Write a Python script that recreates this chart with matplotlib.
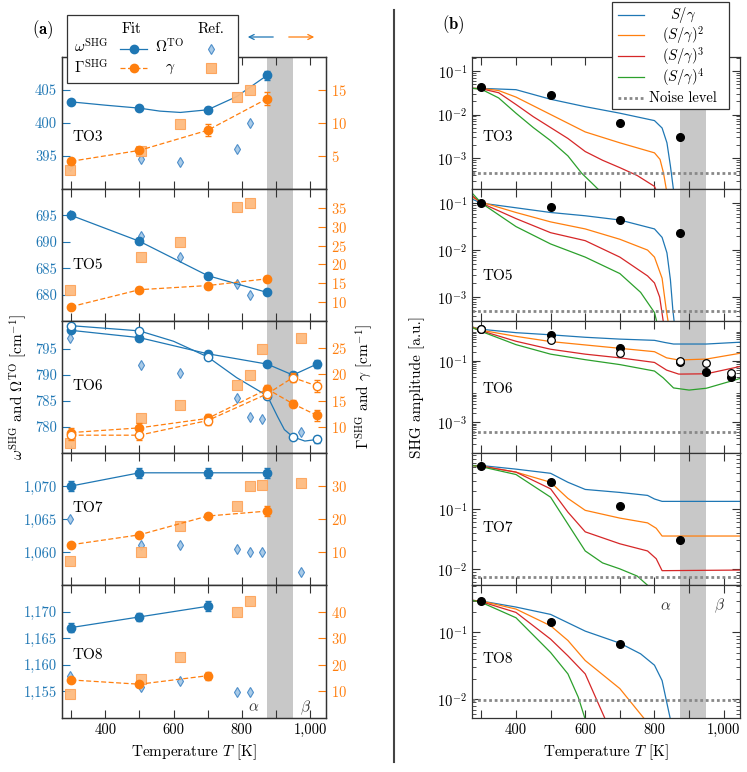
import numpy as np
import matplotlib.pyplot as plt
from matplotlib.lines import Line2D
from matplotlib.patches import Rectangle, FancyArrowPatch
from matplotlib.ticker import FixedLocator, FuncFormatter, NullFormatter, LogLocator
import matplotlib.transforms as mtransforms

plt.rcParams.update({
    "font.family": "serif",
    "font.serif": ["cmr10"],
    "mathtext.fontset": "cm",
    "axes.formatter.use_mathtext": True,
    "axes.unicode_minus": False,
    "font.size": 10,
})

# ---------------- (a) fitted frequencies / dampings ----------------
T_FIT = [300, 500, 700, 875]
T_FIT6 = [300, 500, 700, 875, 950, 1020]
T_FIT8 = [300, 500, 700]
T_REF = [297, 505, 620, 785, 825]
T_REF7 = [297, 505, 620, 785, 825, 860, 975]

TO3_w = [403.2, 402.25, 402.0, 407.25]
TO3_w_err = [0.3, 0.2, 0.5, 0.7]
TO3_g = [4.2, 5.85, 8.9, 13.7]
TO3_g_err = [0.4, 0.4, 0.9, 1.0]
TO3_w_ref = [393.5, 394.5, 394.1, 396.0, 400.0]
TO3_g_ref = [2.85, 5.75, 9.8, 14.0, 15.0]
TO3_w_curve_T = [300, 400, 500, 560, 620, 700, 785, 875]
TO3_w_curve = [403.2, 402.7, 402.25, 401.8, 401.6, 402.0, 404.0, 407.25]

TO5_w = [695.0, 690.1, 683.6, 680.4]
TO5_w_err = [0.3, 0.6, 0.5, 0.3]
TO5_g = [8.8, 13.3, 14.4, 16.2]
TO5_g_err = [0.5, 0.6, 0.8, 0.6]
TO5_w_ref = [695.0, 691.1, 687.1, 682.0, 680.0]
TO5_g_ref = [13.2, 21.9, 26.0, 35.1, 36.2]

TO6_w = [798.6, 797.2, 794.1, 792.1, 790.0, 792.1]
TO6_w_err = [0.4, 0.4, 0.5, 0.4, 0.5, 0.8]
TO6_w_open = [799.5, 798.5, 793.5, 786.0, 778.1, 777.6]
TO6_w_open_err = [0.3, 0.3, 0.4, 0.4, 0.4, 0.7]
TO6_g = [8.9, 9.8, 11.6, 17.2, 14.4, 12.2]
TO6_g_err = [0.8, 1.0, 0.9, 0.8, 0.7, 1.0]
TO6_g_open = [8.4, 8.4, 11.2, 16.3, 19.4, 17.8]
TO6_g_open_err = [0.9, 0.9, 0.9, 0.8, 0.8, 1.2]
TO6_w_ref = [797.2, 792.0, 790.3, 785.5, 782.0, 781.6, 779.0]
TO6_g_ref = [7.0, 11.6, 14.1, 17.9, 19.9, 24.8, 26.9]
TO6_w_open_curve_T = [300, 500, 600, 700, 785, 875, 905, 925, 950, 985, 1020]
TO6_w_open_curve = [799.5, 798.5, 796.5, 793.5, 789.5, 786.0, 782.0, 779.5, 778.1, 777.3, 777.6]

TO7_w = [1070.0, 1072.0, 1072.0, 1072.0]
TO7_w_err = [0.8, 0.8, 0.8, 0.8]
TO7_g = [12.2, 15.2, 20.9, 22.4]
TO7_g_err = [0.6, 0.5, 0.6, 1.5]
TO7_w_ref = [1065.0, 1061.0, 1061.0, 1060.5, 1060.0, 1060.0, 1057.0]
TO7_g_ref = [7.3, 9.9, 17.9, 23.9, 29.9, 30.3, 31.0]

TO8_w = [1167.0, 1169.0, 1171.0]
TO8_w_err = [0.8, 0.8, 0.9]
TO8_g = [14.3, 12.7, 15.9]
TO8_g_err = [0.8, 0.8, 1.5]
TO8_w_ref = [1157.9, 1155.9, 1156.9, 1154.9, 1154.9]
TO8_g_ref = [9.1, 14.8, 22.8, 40.0, 44.0]

# ---------------- (b) SHG amplitudes (log10 values) ----------------
TO3_pts_T = [300, 500, 700, 875]
TO3_pts = [-1.38, -1.55, -2.2, -2.52]
TO3_noise = -3.35
TO3_S1_T = [275, 300, 400, 500, 600, 700, 800, 822, 836, 846, 856]
TO3_S1 = [-1.40, -1.40, -1.43, -1.65, -1.82, -1.97, -2.14, -2.31, -2.65, -3.18, -3.8]
TO3_S2_T = [275, 300, 350, 400, 500, 600, 700, 800, 816, 826, 836]
TO3_S2 = [-1.40, -1.40, -1.45, -1.60, -2.0, -2.4, -2.65, -2.88, -3.03, -3.34, -3.8]
TO3_S3_T = [275, 300, 350, 400, 450, 500, 550, 600, 650, 700, 750, 800, 808]
TO3_S3 = [-1.40, -1.41, -1.5, -1.77, -2.05, -2.3, -2.55, -2.85, -3.05, -3.22, -3.40, -3.65, -3.8]
TO3_S4_T = [275, 300, 350, 400, 450, 500, 550, 590, 620, 648]
TO3_S4 = [-1.40, -1.42, -1.62, -1.97, -2.3, -2.6, -2.95, -3.35, -3.58, -3.8]

TO5_pts_T = [300, 500, 700, 875]
TO5_pts = [-1.0, -1.09, -1.36, -1.64]
TO5_noise = -3.29
TO5_S1_T = [275, 300, 400, 500, 600, 700, 800, 822, 836, 846, 853, 858]
TO5_S1 = [-0.92, -1.0, -1.1, -1.2, -1.27, -1.36, -1.55, -1.73, -2.06, -2.63, -3.27, -3.6]
TO5_S2_T = [275, 300, 400, 500, 600, 700, 780, 800, 822, 834, 841]
TO5_S2 = [-0.88, -0.98, -1.2, -1.4, -1.55, -1.77, -2.0, -2.15, -2.6, -3.27, -3.6]
TO5_S3_T = [275, 300, 400, 500, 600, 700, 780, 800, 815, 827]
TO5_S3 = [-0.85, -1.0, -1.33, -1.63, -1.8, -2.15, -2.55, -2.7, -3.0, -3.6]
TO5_S4_T = [275, 300, 400, 500, 600, 700, 760, 800, 809]
TO5_S4 = [-0.80, -1.0, -1.5, -1.87, -2.15, -2.5, -2.9, -3.33, -3.6]

TO6_pts_T = [300, 500, 700, 875, 950, 1020]
TO6_pts = [0.03, -0.15, -0.59, -1.02, -1.35, -1.53]
TO6_pts_open = [0.03, -0.32, -0.73, -1.0, -1.08, -1.40]
TO6_noise = -3.32
TO6_S1_T = [275, 300, 400, 500, 600, 700, 800, 830, 855, 950, 1048]
TO6_S1 = [0.10, 0.03, -0.08, -0.15, -0.23, -0.29, -0.33, -0.40, -0.45, -0.45, -0.39]
TO6_S2_T = [275, 300, 400, 500, 600, 700, 800, 835, 870, 950, 1048]
TO6_S2 = [0.10, 0.0, -0.2, -0.37, -0.48, -0.59, -0.70, -0.9, -0.97, -0.94, -0.75]
TO6_S3_T = [275, 300, 400, 500, 600, 700, 800, 835, 870, 950, 1048]
TO6_S3 = [0.08, -0.02, -0.36, -0.62, -0.78, -0.9, -1.05, -1.3, -1.43, -1.42, -1.18]
TO6_S4_T = [275, 300, 400, 500, 600, 700, 800, 825, 855, 900, 950, 1048]
TO6_S4 = [0.08, -0.04, -0.47, -0.78, -0.96, -1.12, -1.33, -1.55, -1.88, -1.95, -1.89, -1.57]

TO7_pts_T = [300, 500, 700, 875]
TO7_pts = [-0.27, -0.55, -0.95, -1.52]
TO7_noise = -2.13
TO7_S1_T = [275, 300, 400, 500, 550, 600, 700, 780, 800, 822, 1048]
TO7_S1 = [-0.27, -0.27, -0.33, -0.40, -0.55, -0.67, -0.72, -0.77, -0.83, -0.87, -0.87]
TO7_S2_T = [275, 300, 400, 500, 550, 600, 700, 780, 805, 822, 1048]
TO7_S2 = [-0.27, -0.28, -0.38, -0.55, -0.82, -1.02, -1.15, -1.23, -1.32, -1.45, -1.45]
TO7_S3_T = [275, 300, 400, 500, 550, 600, 700, 780, 805, 822, 1048]
TO7_S3 = [-0.27, -0.28, -0.38, -0.66, -1.05, -1.38, -1.58, -1.70, -1.83, -2.03, -2.02]
TO7_S4_T = [275, 300, 400, 500, 550, 600, 650, 700, 750, 785]
TO7_S4 = [-0.27, -0.29, -0.42, -0.8, -1.25, -1.70, -1.90, -2.0, -2.12, -2.3]

TO8_pts_T = [300, 500, 700]
TO8_pts = [-0.53, -0.84, -1.18]
TO8_noise = -2.01
TO8_S1_T = [275, 300, 400, 500, 600, 700, 760, 800, 822, 836, 846]
TO8_S1 = [-0.52, -0.53, -0.62, -0.73, -0.98, -1.16, -1.32, -1.49, -1.72, -2.06, -2.3]
TO8_S2_T = [275, 300, 400, 500, 550, 600, 700, 772]
TO8_S2 = [-0.52, -0.53, -0.65, -0.9, -1.12, -1.42, -1.84, -2.3]
TO8_S3_T = [275, 300, 400, 500, 550, 600, 658]
TO8_S3 = [-0.52, -0.54, -0.7, -1.1, -1.35, -1.62, -2.3]
TO8_S4_T = [275, 300, 400, 500, 550, 580, 600]
TO8_S4 = [-0.52, -0.55, -0.78, -1.3, -1.62, -1.97, -2.3]

W, H = 747, 772
XLIM = (273, 1047)
BAND = (875, 950)
ROW_TOP = [57, 189, 321, 453, 585]
ROW_BOT = [189, 321, 453, 585, 718]
EDGE = "#333333"
BAND_C = "#c8c8c8"


def rect(x0, x1, y0, y1):
    return [x0 / W, 1 - y1 / H, (x1 - x0) / W, (y1 - y0) / H]


def fx(x):
    return x / W


def fy(y):
    return 1 - y / H


def style_x(ax, bottom):
    ax.set_xlim(*XLIM)
    ax.xaxis.set_major_locator(FixedLocator(range(300, 1001, 100)))
    if bottom:
        ax.xaxis.set_major_formatter(
            FuncFormatter(lambda v, p: f"{int(v):,}" if int(v) % 200 == 0 else ""))
    else:
        ax.xaxis.set_major_formatter(NullFormatter())
    ax.tick_params(axis="x", which="major", direction="in", top=True, bottom=True,
                   length=6, width=0.8, color=EDGE, labelsize=10.5)
    for s in ax.spines.values():
        s.set_color(EDGE)
        s.set_linewidth(0.9)


def fit(ax, T, y, err, color, ls, open_marker=False, curve=None):
    if curve is None:
        curve = (T, y)
    ax.plot(curve[0], curve[1], color=color, ls=ls, lw=0.9, zorder=3,
            dashes=(4, 2) if ls == "--" else (None, None))
    ax.errorbar(T, y, yerr=err, fmt="o", ms=6, color=color,
                mfc="white" if open_marker else color, mec=color, mew=1.0,
                elinewidth=0.8, capsize=2.5, capthick=0.8, zorder=4)


def refs(ax, T, y, kind):
    if kind == "w":
        ax.plot(T, y, "d", ms=5, mfc="#a9cbe8", mec="#4f8fca", mew=0.8, zorder=2)
    else:
        ax.plot(T, y, "s", ms=6.5, mfc="#fdbb80", mec="#fda55e", mew=0.8,
                alpha=0.95, zorder=2)


left_rows = [
    dict(name="TO3", Tf=T_FIT, w=TO3_w, we=TO3_w_err, g=TO3_g, ge=TO3_g_err,
         Tr=T_REF, wr=TO3_w_ref, gr=TO3_g_ref, ylim=(390, 410), y2lim=(0, 20),
         yt=[395, 400, 405], y2t=[5, 10, 15], ty=0.39,
         wcurve=(TO3_w_curve_T, TO3_w_curve)),
    dict(name="TO5", Tf=T_FIT, w=TO5_w, we=TO5_w_err, g=TO5_g, ge=TO5_g_err,
         Tr=T_REF, wr=TO5_w_ref, gr=TO5_g_ref, ylim=(675, 700), y2lim=(5, 40),
         yt=[680, 685, 690, 695], y2t=[10, 15, 20, 25, 30, 35], ty=0.42),
    dict(name="TO6", Tf=T_FIT6, w=TO6_w, we=TO6_w_err, g=TO6_g, ge=TO6_g_err,
         Tr=T_REF7, wr=TO6_w_ref, gr=TO6_g_ref, ylim=(775, 800.4), y2lim=(5, 30.2),
         yt=[780, 785, 790, 795], y2t=[10, 15, 20, 25], ty=0.51),
    dict(name="TO7", Tf=T_FIT, w=TO7_w, we=TO7_w_err, g=TO7_g, ge=TO7_g_err,
         Tr=T_REF7, wr=TO7_w_ref, gr=TO7_g_ref, ylim=(1055, 1075), y2lim=(0, 40),
         yt=[1060, 1065, 1070], y2t=[10, 20, 30], ty=0.58),
    dict(name="TO8", Tf=T_FIT8, w=TO8_w, we=TO8_w_err, g=TO8_g, ge=TO8_g_err,
         Tr=T_REF, wr=TO8_w_ref, gr=TO8_g_ref, ylim=(1150, 1175), y2lim=(0, 50),
         yt=[1155, 1160, 1165, 1170], y2t=[10, 20, 30, 40], ty=0.47),
]

fig = plt.figure(figsize=(W / 100, H / 100), dpi=100)

for i, r in enumerate(left_rows):
    ax = fig.add_axes(rect(62, 326, ROW_TOP[i], ROW_BOT[i]))
    ax.axvspan(*BAND, color=BAND_C, lw=0, zorder=0)
    ax2 = ax.twinx()
    refs(ax, r["Tr"], r["wr"], "w")
    refs(ax2, r["Tr"], r["gr"], "g")
    fit(ax, r["Tf"], r["w"], r["we"], "C0", "-", curve=r.get("wcurve"))
    fit(ax2, r["Tf"], r["g"], r["ge"], "C1", "--")
    if r["name"] == "TO6":
        fit(ax, T_FIT6, TO6_w_open, TO6_w_open_err, "C0", "-", open_marker=True,
            curve=(TO6_w_open_curve_T, TO6_w_open_curve))
        fit(ax2, T_FIT6, TO6_g_open, TO6_g_open_err, "C1", "--", open_marker=True)
    ax.set_ylim(*r["ylim"])
    ax2.set_ylim(*r["y2lim"])
    ax.set_yticks(r["yt"])
    ax.yaxis.set_major_formatter(FuncFormatter(lambda v, p: f"{int(round(v)):,}"))
    ax2.set_yticks(r["y2t"])
    ax.tick_params(axis="y", direction="in", length=6, width=0.8, colors="C0",
                   labelsize=10.5)
    ax2.tick_params(axis="y", direction="in", length=6, width=0.8, colors="C1",
                    labelsize=10.5)
    style_x(ax, i == 4)
    for s in ax2.spines.values():
        s.set_color(EDGE)
        s.set_linewidth(0.9)
    ax.text(0.04, r["ty"], r["name"], transform=ax.transAxes, fontsize=11,
            va="center", ha="left")
    if i == 4:
        tr = mtransforms.blended_transform_factory(ax.transData, ax.transAxes)
        ax.text(835, 0.08, r"$\alpha$", transform=tr, fontsize=11, ha="center",
                va="center", color="#333333")
        ax.text(988, 0.08, r"$\beta$", transform=tr, fontsize=11, ha="center",
                va="center", color="#333333")

# ---------------- (b) ----------------
right_rows = [
    dict(name="TO3", pT=TO3_pts_T, p=TO3_pts, po=None, noise=TO3_noise,
         S=[(TO3_S1_T, TO3_S1), (TO3_S2_T, TO3_S2), (TO3_S3_T, TO3_S3), (TO3_S4_T, TO3_S4)],
         ylim=(-3.71, -0.68), yt=[-1, -2, -3], ty=0.39),
    dict(name="TO5", pT=TO5_pts_T, p=TO5_pts, po=None, noise=TO5_noise,
         S=[(TO5_S1_T, TO5_S1), (TO5_S2_T, TO5_S2), (TO5_S3_T, TO5_S3), (TO5_S4_T, TO5_S4)],
         ylim=(-3.51, -0.70), yt=[-1, -2, -3], ty=0.34),
    dict(name="TO6", pT=TO6_pts_T, p=TO6_pts, po=TO6_pts_open, noise=TO6_noise,
         S=[(TO6_S1_T, TO6_S1), (TO6_S2_T, TO6_S2), (TO6_S3_T, TO6_S3), (TO6_S4_T, TO6_S4)],
         ylim=(-4.0, 0.30), yt=[-1, -3], ty=0.48),
    dict(name="TO7", pT=TO7_pts_T, p=TO7_pts, po=None, noise=TO7_noise,
         S=[(TO7_S1_T, TO7_S1), (TO7_S2_T, TO7_S2), (TO7_S3_T, TO7_S3), (TO7_S4_T, TO7_S4)],
         ylim=(-2.27, -0.06), yt=[-1, -2], ty=0.43),
    dict(name="TO8", pT=TO8_pts_T, p=TO8_pts, po=None, noise=TO8_noise,
         S=[(TO8_S1_T, TO8_S1), (TO8_S2_T, TO8_S2), (TO8_S3_T, TO8_S3), (TO8_S4_T, TO8_S4)],
         ylim=(-2.28, -0.29), yt=[-1, -2], ty=0.44),
]
S_COLORS = ["C0", "C1", "C3", "C2"]

for i, r in enumerate(right_rows):
    ax = fig.add_axes(rect(472, 740, ROW_TOP[i], ROW_BOT[i]))
    ax.set_yscale("log")
    ax.axvspan(*BAND, color=BAND_C, lw=0, zorder=0)
    for (T, a), c in zip(r["S"], S_COLORS):
        ax.plot(T, np.power(10.0, a), color=c, lw=0.9, zorder=2)
    ax.axhline(10 ** r["noise"], color="#888888", lw=2.0, ls=(0, (1, 1)), zorder=2)
    ax.plot(r["pT"], np.power(10.0, r["p"]), "o", ms=5.5, color="black", zorder=4)
    if r["po"] is not None:
        ax.plot(r["pT"], np.power(10.0, r["po"]), "o", ms=5.5, mfc="white",
                mec="black", mew=0.9, zorder=5)
    ax.set_ylim(10 ** r["ylim"][0], 10 ** r["ylim"][1])
    ax.yaxis.set_major_locator(FixedLocator([10.0 ** e for e in r["yt"]]))
    ax.yaxis.set_major_formatter(FuncFormatter(lambda v, p: r"$10^{%d}$" % round(np.log10(v))))
    ax.yaxis.set_minor_locator(LogLocator(base=10, subs=np.arange(2, 10), numticks=20))
    ax.yaxis.set_minor_formatter(NullFormatter())
    style_x(ax, i == 4)
    ax.tick_params(axis="y", which="major", direction="in", left=True, right=True,
                   length=6, width=0.8, color=EDGE, labelsize=10.5)
    ax.tick_params(axis="y", which="minor", direction="in", left=True, right=True,
                   length=3, width=0.6, color=EDGE)
    ax.text(0.04, r["ty"], r["name"], transform=ax.transAxes, fontsize=11,
            va="center", ha="left")
    if i == 4:
        tr = mtransforms.blended_transform_factory(ax.transData, ax.transAxes)
        ax.text(831, 0.84, r"$\alpha$", transform=tr, fontsize=11, ha="center",
                va="center", color="#333333")
        ax.text(988, 0.84, r"$\beta$", transform=tr, fontsize=11, ha="center",
                va="center", color="#333333")

# ---------------- labels & decorations ----------------
fig.text(fx(43), fy(30), r"$\mathbf{(a)}$", ha="center", va="center", fontsize=12)
fig.text(fx(453), fy(25), r"$\mathbf{(b)}$", ha="center", va="center", fontsize=12)
fig.text(fx(194), fy(752), r"Temperature $T$ [K]", ha="center", va="center", fontsize=11)
fig.text(fx(606), fy(752), r"Temperature $T$ [K]", ha="center", va="center", fontsize=11)
fig.text(fx(18), fy(387), r"$\omega^{\rm SHG}$ and $\Omega^{\rm TO}$ [cm$^{-1}$]",
         rotation=90, ha="center", va="center", fontsize=11)
fig.text(fx(364), fy(387), r"$\Gamma^{\rm SHG}$ and $\gamma$ [cm$^{-1}$]",
         rotation=90, ha="center", va="center", fontsize=11)
fig.text(fx(417), fy(387), "SHG amplitude [a.u.]", rotation=90, ha="center",
         va="center", fontsize=11)

fig.add_artist(Line2D([fx(394), fx(394)], [fy(10), fy(762)], color="#444444", lw=1.5,
                      transform=fig.transFigure))

# left legend (table layout)
fig.add_artist(Rectangle((fx(67), fy(83)), fx(238) - fx(67), fy(15) - fy(83),
                         transform=fig.transFigure, fc="white", ec=EDGE, lw=0.9, zorder=5))
fig.text(fx(132), fy(29), "Fit", ha="center", va="center", fontsize=11, zorder=6)
fig.text(fx(211), fy(29), "Ref.", ha="center", va="center", fontsize=11, zorder=6)
fig.text(fx(91), fy(47), r"$\omega^{\rm SHG}$", ha="center", va="center", fontsize=11, zorder=6)
fig.text(fx(91), fy(68), r"$\Gamma^{\rm SHG}$", ha="center", va="center", fontsize=11, zorder=6)
fig.text(fx(170), fy(47), r"$\Omega^{\rm TO}$", ha="center", va="center", fontsize=11, zorder=6)
fig.text(fx(170), fy(69), r"$\gamma$", ha="center", va="center", fontsize=11, zorder=6)
for yy, c, ls in [(48.7, "C0", "-"), (68.3, "C1", "--")]:
    fig.add_artist(Line2D([fx(120), fx(147)], [fy(yy), fy(yy)], color=c, lw=0.9, ls=ls,
                          dashes=(4, 2) if ls == "--" else (None, None),
                          transform=fig.transFigure, zorder=6))
    fig.add_artist(Line2D([fx(133.5)], [fy(yy)], marker="o", ms=6, color=c,
                          transform=fig.transFigure, zorder=7))
fig.add_artist(Line2D([fx(211)], [fy(48.7)], marker="d", ms=5, mfc="#a9cbe8",
                      mec="#4f8fca", mew=0.8, transform=fig.transFigure, zorder=7))
fig.add_artist(Line2D([fx(211)], [fy(68.3)], marker="s", ms=6.5, mfc="#fdbb80",
                      mec="#fda55e", mew=0.8, transform=fig.transFigure, zorder=7))

# axis arrows
fig.add_artist(FancyArrowPatch((fx(276), fy(37)), (fx(245), fy(37)),
                               transform=fig.transFigure, arrowstyle="->",
                               mutation_scale=9, color="C0", lw=0.9))
fig.add_artist(FancyArrowPatch((fx(286), fy(37)), (fx(317), fy(37)),
                               transform=fig.transFigure, arrowstyle="->",
                               mutation_scale=9, color="C1", lw=0.9))

# right legend
fig.add_artist(Rectangle((fx(612), fy(109)), fx(729) - fx(612), fy(2) - fy(109),
                         transform=fig.transFigure, fc="white", ec=EDGE, lw=0.9, zorder=5))
leg_rows = [(15, "C0", r"$S/\gamma$"), (35, "C1", r"$(S/\gamma)^2$"),
            (56, "C3", r"$(S/\gamma)^3$"), (77, "C2", r"$(S/\gamma)^4$")]
for yy, c, lab in leg_rows:
    fig.add_artist(Line2D([fx(618), fx(644)], [fy(yy), fy(yy)], color=c, lw=0.9,
                          transform=fig.transFigure, zorder=6))
    fig.text(fx(683), fy(yy), lab, ha="center", va="center", fontsize=10.5, zorder=6)
fig.add_artist(Line2D([fx(618), fx(644)], [fy(98), fy(98)], color="#888888", lw=2.0,
                      ls=(0, (1, 1)), transform=fig.transFigure, zorder=6))
fig.text(fx(683), fy(98), "Noise level", ha="center", va="center", fontsize=10.5, zorder=6)

fig.savefig("out.png", dpi=100)
